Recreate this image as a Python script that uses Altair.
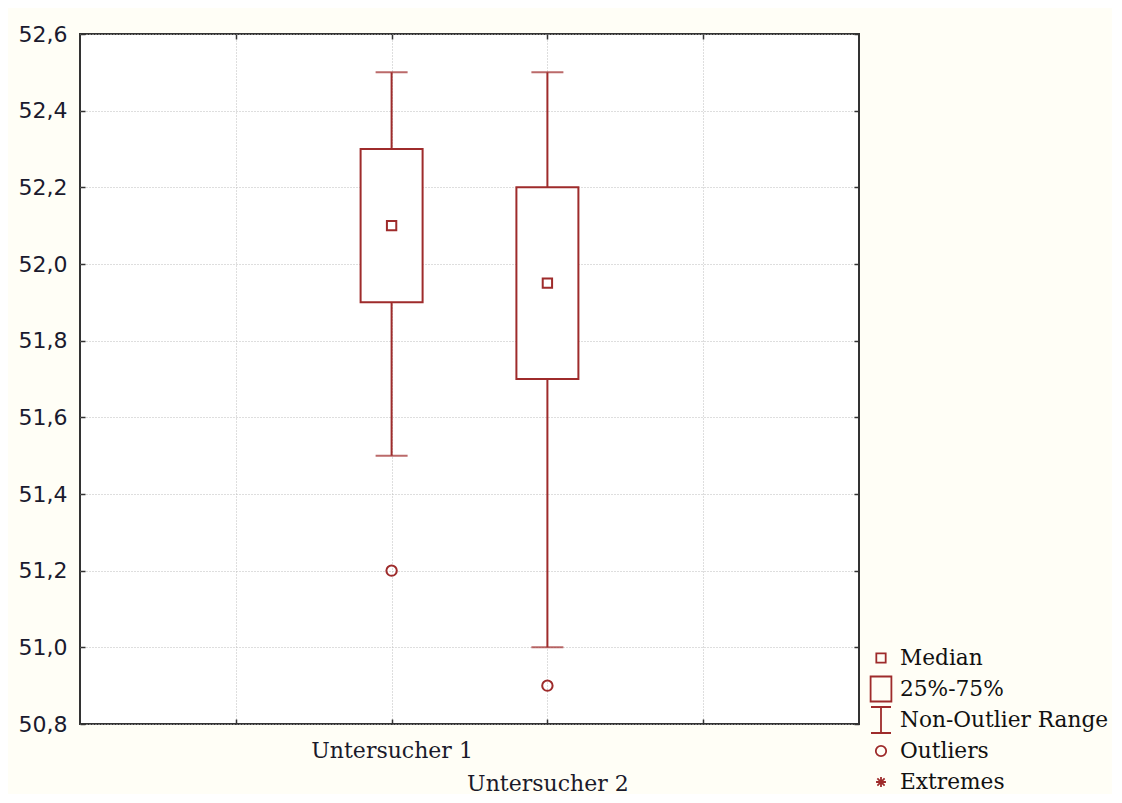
import altair as alt
import pandas as pd

# ---- data ----
groups = ["Untersucher 1", "Untersucher 2"]
positions = [2, 3]
medians = [52.1, 51.95]
q1s = [51.9, 51.7]
q3s = [52.3, 52.2]
lows = [51.5, 51.0]
highs = [52.5, 52.5]
outlier_pos = [2, 3]
outlier_vals = [51.2, 50.9]

y_ticks = [50.8, 51.0, 51.2, 51.4, 51.6, 51.8, 52.0, 52.2, 52.4, 52.6]
x_ticks = [1, 2, 3, 4]

legend_labels = ["Median", "25%-75%", "Non-Outlier Range", "Outliers", "Extremes"]
legend_paths = [
    "M-0.36,-0.36H0.36V0.36H-0.36Z",
    "M-0.8,-0.96H0.8V0.96H-0.8Z",
    "M-0.77,-1H0.77M0,-1V1M-0.77,1H0.77",
    "M0.4,0A0.4,0.4 0 1,1 -0.4,0A0.4,0.4 0 1,1 0.4,0Z",
    "M-0.38,0H0.38M0,-0.38V0.38M-0.28,-0.28L0.28,0.28M-0.28,0.28L0.28,-0.28",
]

RED = "#9E2B2B"
FRAME = "#333333"

box_df = pd.DataFrame({
    "group": groups, "pos": positions, "med": medians,
    "q1": q1s, "q3": q3s, "lo": lows, "hi": highs,
    "kind": ["Median"] * len(groups),
})
out_df = pd.DataFrame({"pos": outlier_pos, "val": outlier_vals,
                       "kind": ["Outliers"] * len(outlier_vals)})

xscale = alt.Scale(domain=[0, 5], nice=False, zero=False, padding=0)
yscale = alt.Scale(domain=[50.8, 52.6], nice=False, zero=False, padding=0)
shape_scale = alt.Scale(domain=legend_labels, range=legend_paths)

label_expr_parts = []
for i, (p, g) in enumerate(zip(positions, groups)):
    if i % 2 == 0:
        label_expr_parts.append(f"datum.value == {p} ? '{g}'")
    else:
        label_expr_parts.append(f"datum.value == {p} ? ['', '{g}']")
x_label_expr = " : ".join(label_expr_parts) + " : ''"

# axes
x_axis_bottom = alt.Axis(orient="bottom", values=x_ticks, grid=False, domain=False,
                         offset=-5, tickSize=5, tickWidth=1.5, tickColor=FRAME,
                         labelExpr=x_label_expr, labelFont="DejaVu Serif",
                         labelFontSize=22, labelColor="#1a1a2a", labelPadding=16,
                         labelBaseline="top", labelLineHeight=33,
                         labelOverlap=False, labelBound=False, title=None)
y_axis_left = alt.Axis(orient="left", values=y_ticks, grid=False, domain=False,
                       offset=-5, tickSize=5, tickWidth=1.5, tickColor=FRAME,
                       labelExpr="replace(format(datum.value, '.1f'), '.', ',')",
                       labelFont="DejaVu Sans", labelFontSize=22,
                       labelColor="#1a1a2e", labelPadding=13,
                       labelOverlap=False, title=None)
x_axis_top = alt.Axis(orient="top", values=x_ticks, grid=False, domain=False,
                      offset=-5, tickSize=5, tickWidth=1.5, tickColor=FRAME,
                      labels=False, title=None)
y_axis_right = alt.Axis(orient="right", values=y_ticks, grid=False, domain=False,
                        offset=-5, tickSize=5, tickWidth=1.5, tickColor=FRAME,
                        labels=False, title=None)
x_axis_grid = alt.Axis(orient="bottom", values=x_ticks, grid=True, domain=False,
                       ticks=False, labels=False, gridColor="#bdbdbd",
                       gridDash=[1, 2], gridWidth=1, title=None)
y_axis_grid = alt.Axis(orient="left", values=y_ticks, grid=True, domain=False,
                       ticks=False, labels=False, gridColor="#bdbdbd",
                       gridDash=[1, 2], gridWidth=1, title=None)

base = alt.Chart(box_df)

whisk_up = base.mark_rule(color=RED, strokeWidth=2).encode(
    x=alt.X("pos:Q", scale=xscale, axis=x_axis_grid),
    y=alt.Y("q3:Q", scale=yscale, axis=y_axis_grid),
    y2="hi:Q",
)
whisk_lo = base.mark_rule(color=RED, strokeWidth=2).encode(
    x=alt.X("pos:Q", scale=xscale, axis=None),
    y=alt.Y("lo:Q", scale=yscale, axis=None),
    y2="q1:Q",
)
boxes = base.mark_bar(fill="white", stroke=RED, strokeWidth=2, size=62).encode(
    x=alt.X("pos:Q", scale=xscale, axis=x_axis_bottom),
    y=alt.Y("q1:Q", scale=yscale, axis=y_axis_left),
    y2="q3:Q",
)
cap_hi = base.mark_tick(color=RED, orient="horizontal", size=32, thickness=2).encode(
    x=alt.X("pos:Q", scale=xscale, axis=x_axis_top),
    y=alt.Y("hi:Q", scale=yscale, axis=y_axis_right),
)
cap_lo = base.mark_tick(color=RED, orient="horizontal", size=32, thickness=2).encode(
    x=alt.X("pos:Q", scale=xscale, axis=None),
    y=alt.Y("lo:Q", scale=yscale, axis=None),
)

legend = alt.Legend(title=None, orient="none", legendX=787, legendY=610,
                    symbolSize=676, symbolStrokeColor=RED, symbolFillColor="transparent",
                    symbolStrokeWidth=1.8, labelFont="DejaVu Serif", labelFontSize=21.7,
                    labelColor="#111111", labelOffset=5, rowPadding=3, padding=0,
                    clipHeight=28, labelLimit=400)

med = base.mark_point(filled=False, color=RED, size=676, strokeWidth=2, opacity=1).encode(
    x=alt.X("pos:Q", scale=xscale, axis=None),
    y=alt.Y("med:Q", scale=yscale, axis=None),
    shape=alt.Shape("kind:N", scale=shape_scale, legend=legend),
)
outl = alt.Chart(out_df).mark_point(filled=False, color=RED, size=676, strokeWidth=2, opacity=1).encode(
    x=alt.X("pos:Q", scale=xscale, axis=None),
    y=alt.Y("val:Q", scale=yscale, axis=None),
    shape=alt.Shape("kind:N", scale=shape_scale, legend=legend),
)

chart = alt.layer(whisk_up, whisk_lo, boxes, cap_hi, cap_lo, med, outl).resolve_axis(
    x="independent", y="independent"
).properties(
    width=779, height=690,
    autosize=alt.AutoSizeParams(type="none"),
    padding={"left": 72, "top": 26, "right": 253, "bottom": 70},
    background="#FFFEF6",
).configure_view(
    fill="white", stroke=FRAME, strokeWidth=2,
)

chart.save("out.html", embed_options={"renderer": "svg", "actions": False})
